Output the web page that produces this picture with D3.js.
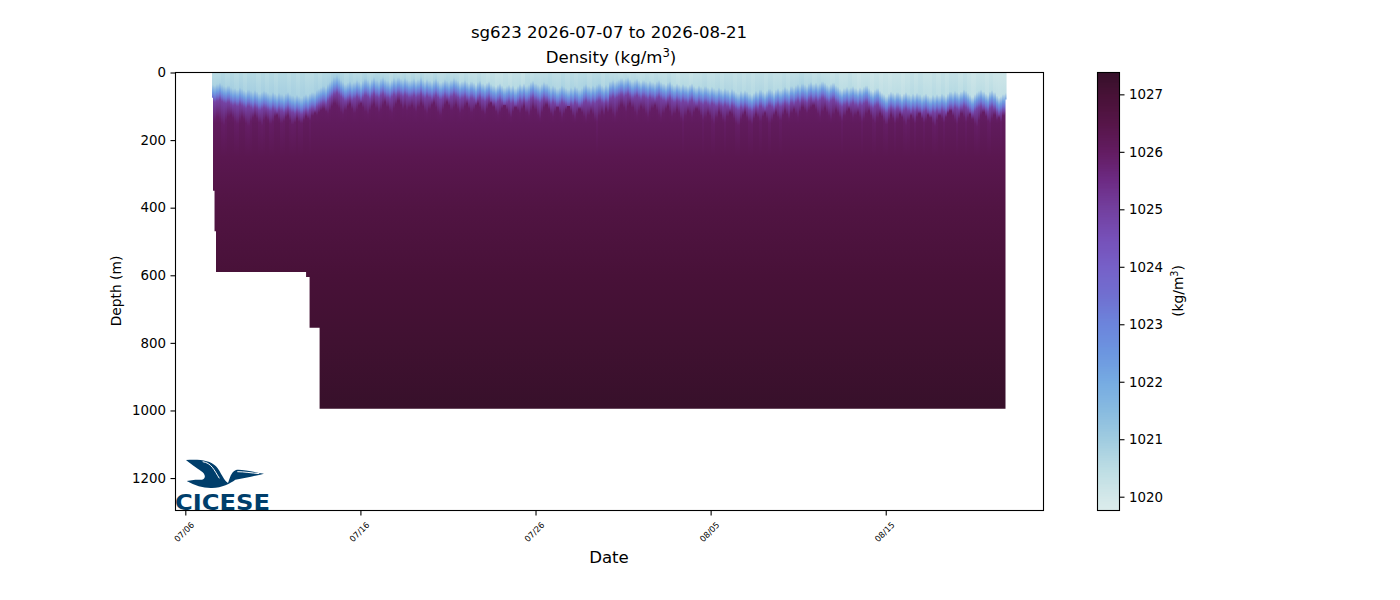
<!DOCTYPE html>
<html lang="en">

<head>
    <meta charset="UTF-8" />
    <title>sg623 Density</title>
    <script src="https://d3js.org/d3.v7.min.js"></script>
    <style>
        html, body { margin: 0; padding: 0; background: #fff; }
        svg { display: block; }
        text { font-family: "DejaVu Sans", sans-serif; fill: #000; }
    </style>
</head>

<body>
    <div id="chart"></div>

    <script>
        var w = 1400;
        var h = 600;

        // Depth of the blue pycnocline band for each glider profile (m)
        var pycnoclineDepth = [
            58, 60, 56, 52, 58, 62, 64, 60, 66, 70, 68, 72, 66, 70, 74, 78, 72, 76, 80, 74,
            78, 84, 80, 76, 78, 82, 86, 80, 84, 88, 82, 86, 90, 84, 80, 86, 90, 94, 88, 92,
            96, 90, 86, 90, 84, 80, 82, 74, 70, 66, 62, 66, 56, 50, 44, 36, 32, 38, 44, 50,
            56, 52, 48, 54, 50, 44, 48, 54, 46, 40, 44, 50, 42, 36, 44, 48, 40, 36, 42, 46,
            50, 44, 38, 42, 36, 40, 44, 38, 42, 46,
            44, 40, 46, 42, 36, 44, 48, 42, 46, 50, 44, 40, 46, 52, 48, 42, 46, 50, 44, 38,
            42, 46, 52, 48, 44, 50, 54, 48, 52, 58, 50, 46, 54, 58, 52, 48, 56, 60, 64, 58,
            54, 60, 66, 62, 58, 64, 60, 68, 62, 56, 60, 54, 62, 58, 50, 46, 54, 58, 62, 56,
            50, 54, 60, 66, 60, 64, 70, 66, 60, 64, 68, 72, 66, 70, 62, 66, 72, 68, 60, 56,
            62, 66, 60, 64, 58, 54, 60, 64, 58, 62,
            48, 44, 50, 46, 42, 38, 44, 40, 36, 42, 48, 44, 40, 46, 50, 44, 48, 52, 46, 50,
            54, 48, 44, 50, 54, 58, 52, 48, 56, 60, 54, 58, 62, 56, 60, 64, 58, 54, 62, 66,
            60, 64, 68, 62, 66, 70, 64, 68, 72, 66, 70, 74, 68, 72, 78, 70, 74, 80, 84, 76,
            80, 74, 78, 84, 88, 82, 76, 80, 72, 78, 82, 76, 70, 74, 80, 72, 68, 74, 70, 64,
            68, 72, 62, 66, 60, 56, 62, 54, 58, 62,
            54, 50, 56, 52, 58, 54, 48, 52, 58, 62, 56, 52, 60, 64, 70, 74, 68, 64, 70, 66,
            62, 68, 72, 66, 70, 64, 60, 68, 74, 78, 72, 68, 76, 82, 86, 92, 84, 78, 82, 86,
            80, 84, 90, 84, 80, 86, 90, 84, 88, 82, 86, 92, 88, 84, 90, 94, 88, 92, 86, 90,
            84, 88, 92, 84, 78, 82, 76, 80, 84, 78, 72, 76, 82, 88, 94, 86, 80, 76, 72, 78,
            84, 88, 78, 74, 80, 90, 96, 92, 86, 82
        ];

        // Depth where the violet streaks end and the deep purple starts (m)
        var violetBaseDepth = [
            148, 140, 132, 138, 150, 156, 142, 130, 126, 134, 146, 152, 140, 132, 138, 150, 158, 144, 134, 128,
            136, 148, 156, 142, 134, 140, 152, 146, 130, 126, 138, 150, 144, 132, 128, 142, 154, 148, 136, 146,
            150, 140, 130, 136, 142, 128, 120, 126, 118, 112, 108, 116, 122, 112, 100, 92, 98, 106, 118, 124,
            112, 100, 94, 108, 120, 110, 98, 92, 104, 116, 124, 112, 100, 94, 106, 118, 110, 96, 88, 102,
            114, 120, 106, 94, 84, 96, 108, 100, 112, 104,
            98, 108, 116, 102, 92, 100, 114, 122, 108, 96, 90, 104, 118, 126, 110, 96, 88, 98, 112, 104,
            96, 108, 120, 112, 100, 92, 106, 118, 110, 98, 92, 104, 116, 124, 108, 96, 90, 102, 116, 126,
            118, 106, 98, 110, 124, 132, 116, 104, 112, 120, 108, 100, 118, 128, 114, 102, 110, 126, 136, 118,
            104, 96, 108, 122, 130, 116, 104, 120, 134, 122, 110, 100, 114, 128, 138, 122, 108, 118, 130, 140,
            126, 114, 124, 138, 146, 128, 116, 126, 108, 118,
            112, 124, 134, 120, 106, 96, 104, 116, 100, 92, 104, 118, 128, 114, 102, 110, 122, 132, 118, 106,
            98, 112, 126, 134, 120, 108, 100, 116, 130, 122, 110, 120, 136, 146, 128, 114, 122, 132, 118, 108,
            116, 128, 142, 132, 120, 128, 144, 152, 134, 118, 126, 140, 148, 130, 118, 124, 136, 150, 156, 138,
            126, 118, 134, 146, 152, 136, 124, 132, 144, 130, 120, 136, 150, 140, 126, 118, 132, 142, 126, 114,
            124, 136, 120, 110, 122, 132, 116, 104, 112, 120,
            112, 104, 98, 110, 122, 132, 116, 106, 118, 128, 138, 124, 112, 120, 132, 144, 128, 116, 108, 122,
            134, 126, 118, 132, 146, 136, 122, 114, 128, 142, 150, 134, 122, 130, 144, 154, 140, 126, 136, 150,
            138, 124, 132, 146, 156, 142, 128, 138, 150, 132, 122, 136, 148, 140, 126, 134, 150, 158, 142, 128,
            136, 148, 132, 120, 114, 128, 140, 152, 136, 122, 132, 146, 134, 124, 138, 152, 160, 142, 126, 118,
            130, 144, 150, 136, 126, 140, 134, 146, 128, 122
        ];

        // Density at the surface for every second profile (kg/m3)
        var surfaceDensity = [
            1020.5, 1020.5, 1020.6, 1020.5, 1020.6, 1020.5, 1020.6, 1020.5, 1020.6, 1020.6, 1020.5, 1020.6, 1020.5, 1020.6, 1020.5, 1020.6, 1020.6, 1020.5, 1020.6, 1020.5,
            1020.6, 1020.5, 1020.5, 1020.6, 1020.5, 1020.6, 1020.6, 1020.7, 1020.7, 1020.6, 1020.5, 1020.6, 1020.5, 1020.5, 1020.6, 1020.5, 1020.5, 1020.6, 1020.5, 1020.5,
            1020.4, 1020.5, 1020.4, 1020.5, 1020.4,
            1020.5, 1020.4, 1020.5, 1020.4, 1020.4, 1020.5, 1020.4, 1020.4, 1020.5, 1020.4, 1020.4, 1020.3, 1020.4, 1020.3, 1020.3, 1020.4, 1020.3, 1020.2, 1020.3, 1020.2,
            1020.2, 1020.3, 1020.2, 1020.3, 1020.3, 1020.2, 1020.4, 1020.3, 1020.4, 1020.4, 1020.4, 1020.5, 1020.4, 1020.4, 1020.5, 1020.4, 1020.5, 1020.4, 1020.5, 1020.5,
            1020.4, 1020.5, 1020.5, 1020.4, 1020.5,
            1020.4, 1020.4, 1020.3, 1020.4, 1020.3, 1020.4, 1020.3, 1020.3, 1020.4, 1020.3, 1020.4, 1020.3, 1020.3, 1020.4, 1020.3, 1020.2, 1020.3, 1020.3, 1020.2, 1020.3,
            1020.3, 1020.4, 1020.3, 1020.3, 1020.4, 1020.3, 1020.4, 1020.4, 1020.3, 1020.4, 1020.3, 1020.4, 1020.3, 1020.4, 1020.4, 1020.3, 1020.4, 1020.3, 1020.3, 1020.4,
            1020.3, 1020.4, 1020.4, 1020.5, 1020.4,
            1020.4, 1020.3, 1020.4, 1020.3, 1020.3, 1020.2, 1020.3, 1020.2, 1020.2, 1020.3, 1020.2, 1020.1, 1020.2, 1020.2, 1020.1, 1020.2, 1020.1, 1020.2, 1020.1, 1020.2,
            1020.2, 1020.1, 1020.2, 1020.3, 1020.2, 1020.3, 1020.2, 1020.2, 1020.3, 1020.2, 1020.3, 1020.2, 1020.3, 1020.3, 1020.2, 1020.3, 1020.2, 1020.1, 1020.2, 1020.2,
            1020.1, 1020.2, 1020.1, 1020.1, 1020.1
        ];

        // Density below the streaks, the same for all profiles
        var deepDepths = [150, 250, 400, 600, 800, 1000];
        var deepDensities = [1026.1, 1026.35, 1026.65, 1026.95, 1027.15, 1027.35];

        // Outline of the section: day since 07/06 and deepest sample reached
        var footprintDays = [1.526, 1.583, 1.669, 1.754, 6.897, 7.097, 7.669, 46.84, 46.9];
        var footprintDepths = [75, 350, 470, 590, 605, 755, 995, 80, 80];

        var firstProfileDay = 1.526;
        var lastProfileDay = 46.91;

        var xTickDates = ["2026-07-06", "2026-07-16", "2026-07-26", "2026-08-05", "2026-08-15"];
        var yTicks = [0, 200, 400, 600, 800, 1000, 1200];
        var colorbarTicks = [1020, 1021, 1022, 1023, 1024, 1025, 1026, 1027];

        // Colormap
        var cmapValues = [1019.76, 1020, 1020.5, 1021, 1021.5, 1022, 1022.5, 1023, 1023.5, 1024, 1024.5, 1025, 1025.5, 1026, 1026.5, 1027, 1027.38];
        var cmapColors = ["#dcecec", "#d3e8e9", "#bcdde4", "#a0cce0", "#88bbe0", "#76abe2", "#6c96e0", "#6c85dc", "#7070d0", "#7660c8", "#7650b8", "#73409f", "#6d2b84", "#631c62", "#561548", "#471136", "#361029"];

        var parseDay = d3.utcParse("%Y-%m-%d");
        var origin = parseDay(xTickDates[0]);
        function dayToDate(d) { return new Date(+origin + d * 864e5); }

        var color = d3.scaleLinear().domain(cmapValues).range(cmapColors);

        var xScale = d3.scaleUtc()
            .domain([dayToDate(-0.56), dayToDate(49.01)])
            .range([175.5, 1043.5]);

        var yScale = d3.scaleLinear()
            .domain([0, 1296])
            .range([72.5, 510.5]);

        var cbScale = d3.scaleLinear()
            .domain([1019.76, 1027.38])
            .range([510.5, 72.5]);

        var svg = d3.select("#chart")
            .append("svg")
            .attr("width", w)
            .attr("height", h);

        var defs = svg.append("defs");

        // Clip the columns to the outline the glider actually sampled
        var footprintArea = d3.area()
            .curve(d3.curveStepAfter)
            .x(function (d, i) { return xScale(dayToDate(d)); })
            .y0(yScale(0))
            .y1(function (d, i) { return yScale(footprintDepths[i]); });

        defs.append("clipPath")
            .attr("id", "footprint")
            .append("path")
            .attr("d", footprintArea(footprintDays));

        // Slight sideways smoothing, like the shading of the original section plot
        defs.append("filter")
            .attr("id", "smooth")
            .attr("filterUnits", "userSpaceOnUse")
            .attr("x", 190).attr("y", 60).attr("width", 840).attr("height", 360)
            .attr("color-interpolation-filters", "sRGB")
            .append("feGaussianBlur")
            .attr("stdDeviation", "0.5 0");

        var nProfiles = pycnoclineDepth.length;
        var spacing = (lastProfileDay - firstProfileDay) / nProfiles;

        // One vertical gradient per profile
        function profileStops(i) {
            var p = pycnoclineDepth[i];
            var surface = surfaceDensity[Math.floor(i / 2)];
            var stops = [
                [0, surface],
                [p - 22, surface + 0.3],
                [p, 1022.3],
                [p + 14, 1023.4],
                [p + 28, 1024.9],
                [violetBaseDepth[i], 1025.95]
            ];
            deepDepths.forEach(function (d, j) {
                if (d > violetBaseDepth[i] + 8) stops.push([d, deepDensities[j]]);
            });
            return stops;
        }

        d3.range(nProfiles).forEach(function (i) {
            var grad = defs.append("linearGradient")
                .attr("id", "profile" + i)
                .attr("gradientUnits", "userSpaceOnUse")
                .attr("x1", 0).attr("x2", 0)
                .attr("y1", yScale(0)).attr("y2", yScale(1000));
            grad.selectAll("stop")
                .data(profileStops(i))
                .enter()
                .append("stop")
                .attr("offset", function (d) { return d[0] / 1000; })
                .attr("stop-color", function (d) { return color(d[1]); });
        });

        svg.append("g")
            .attr("clip-path", "url(#footprint)")
            .append("g")
            .attr("filter", "url(#smooth)")
            .selectAll("rect")
            .data(d3.range(nProfiles))
            .enter()
            .append("rect")
            .attr("x", function (i) { return xScale(dayToDate(firstProfileDay + i * spacing)); })
            .attr("y", yScale(0))
            .attr("width", function (i) {
                return xScale(dayToDate(firstProfileDay + (i + 1) * spacing)) - xScale(dayToDate(firstProfileDay + i * spacing)) + 0.6;
            })
            .attr("height", yScale(1000) - yScale(0))
            .attr("shape-rendering", "crispEdges")
            .attr("fill", function (i) { return "url(#profile" + i + ")"; });

        // CICESE logo
        var logo = svg.append("g").attr("transform", "translate(172,455) scale(0.3333)");
        logo.append("path")
            .attr("fill", "#003e6b")
            .attr("d", "M42 15 C75 12 115 14 132 34 C148 52 155 78 168 84 C174 70 176 52 192 45 C205 42 240 50 276 56 C250 62 220 70 190 74 C175 85 150 98 120 99 C95 100 70 92 44 78 L70 74 L90 74 C100 72 102 62 92 52 C80 42 62 32 42 15 Z");
        logo.append("path")
            .attr("fill", "none")
            .attr("stroke", "#fff")
            .attr("stroke-width", 3)
            .attr("d", "M92 20 C118 24 126 44 142 70 M196 50 C215 50 240 54 262 56");
        svg.append("text")
            .attr("x", 175)
            .attr("y", 509.5)
            .attr("textLength", 95)
            .attr("lengthAdjust", "spacingAndGlyphs")
            .style("font-size", "22px")
            .style("font-weight", "bold")
            .style("fill", "#003e6b")
            .text("CICESE");

        // Axes
        var xAxis = d3.axisBottom(xScale)
            .tickValues(xTickDates.map(parseDay))
            .tickFormat(d3.utcFormat("%m/%d"))
            .tickSize(5)
            .tickSizeOuter(0);

        var xg = svg.append("g")
            .attr("transform", "translate(0,510.5)")
            .call(xAxis);
        xg.select(".domain").remove();
        xg.selectAll("line").attr("stroke-width", 1.1);
        xg.selectAll("text")
            .attr("x", 0)
            .attr("y", 0)
            .attr("dy", 0)
            .attr("text-anchor", "middle")
            .attr("transform", "translate(0.5,23.5) rotate(-45)")
            .style("font-size", "8.3px");

        var yAxis = d3.axisLeft(yScale)
            .tickValues(yTicks)
            .tickFormat(d3.format("d"))
            .tickSize(5)
            .tickPadding(4.5)
            .tickSizeOuter(0);

        var yg = svg.append("g")
            .attr("transform", "translate(175.5,0)")
            .call(yAxis);
        yg.select(".domain").remove();
        yg.selectAll("line").attr("stroke-width", 1.1);
        yg.selectAll("text").style("font-size", "13.4px");

        svg.append("rect")
            .attr("x", 175.5)
            .attr("y", 72.5)
            .attr("width", 868)
            .attr("height", 438)
            .attr("fill", "none")
            .attr("stroke", "#000")
            .attr("stroke-width", 1.1);

        // Titles and labels
        svg.append("text")
            .attr("x", 609)
            .attr("y", 38)
            .attr("text-anchor", "middle")
            .style("font-size", "16.6px")
            .text("sg623 2026-07-07 to 2026-08-21");

        var subtitle = svg.append("text")
            .attr("x", 611)
            .attr("y", 63)
            .attr("text-anchor", "middle")
            .style("font-size", "16.6px");
        subtitle.append("tspan").text("Density (kg/m");
        subtitle.append("tspan").attr("dy", -6).style("font-size", "11.6px").text("3");
        subtitle.append("tspan").attr("dy", 6).text(")");

        svg.append("text")
            .attr("x", 609)
            .attr("y", 563)
            .attr("text-anchor", "middle")
            .style("font-size", "16.6px")
            .text("Date");

        svg.append("text")
            .attr("transform", "translate(121,291) rotate(-90)")
            .attr("text-anchor", "middle")
            .style("font-size", "13.8px")
            .text("Depth (m)");

        // Colorbar
        var cbSteps = d3.range(0, 256);
        var cbStep = (cbScale.domain()[1] - cbScale.domain()[0]) / cbSteps.length;

        svg.append("g")
            .selectAll("rect")
            .data(cbSteps)
            .enter()
            .append("rect")
            .attr("x", 1097.5)
            .attr("width", 22)
            .attr("y", function (d) { return cbScale(cbScale.domain()[0] + (d + 1) * cbStep); })
            .attr("height", function (d) { return cbScale(cbScale.domain()[0] + d * cbStep) - cbScale(cbScale.domain()[0] + (d + 1) * cbStep) + 0.5; })
            .attr("shape-rendering", "crispEdges")
            .attr("fill", function (d) { return color(cbScale.domain()[0] + (d + 0.5) * cbStep); });

        svg.append("rect")
            .attr("x", 1097.5)
            .attr("y", 72.5)
            .attr("width", 22)
            .attr("height", 438)
            .attr("fill", "none")
            .attr("stroke", "#000")
            .attr("stroke-width", 1.1);

        var cbAxis = d3.axisRight(cbScale)
            .tickValues(colorbarTicks)
            .tickFormat(d3.format("d"))
            .tickSize(5)
            .tickPadding(4.5)
            .tickSizeOuter(0);

        var cbg = svg.append("g")
            .attr("transform", "translate(1119.5,0)")
            .call(cbAxis);
        cbg.select(".domain").remove();
        cbg.selectAll("line").attr("stroke-width", 1.1);
        cbg.selectAll("text").style("font-size", "13.4px");

        var cbLabel = svg.append("text")
            .attr("transform", "translate(1183,291) rotate(-90)")
            .attr("text-anchor", "middle")
            .style("font-size", "13.8px");
        cbLabel.append("tspan").text("(kg/m");
        cbLabel.append("tspan").attr("dy", -5).style("font-size", "9.6px").text("3");
        cbLabel.append("tspan").attr("dy", 5).text(")");
    </script>
</body>

</html>
